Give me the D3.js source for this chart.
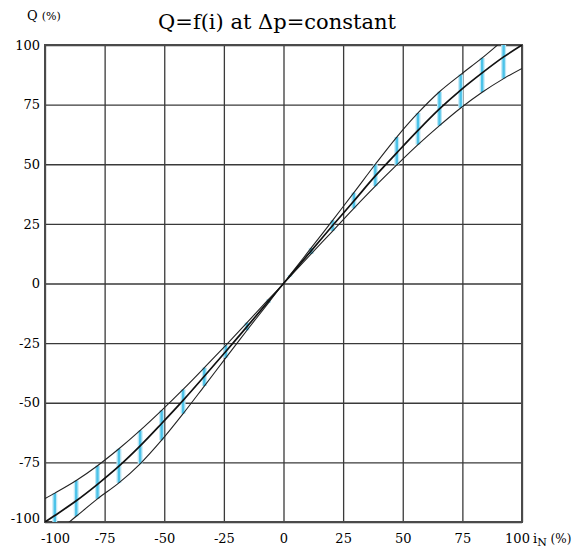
<!DOCTYPE html>
<html>
<head>
<meta charset="utf-8">
<script src="https://cdn.jsdelivr.net/npm/d3@7"></script>
<style>
  html, body { margin: 0; padding: 0; background: #fff; }
  svg { display: block; }
  text { font-family: "DejaVu Serif", "Liberation Serif", serif; fill: #000; }
</style>
</head>
<body>
<svg id="chart" width="587" height="550"></svg>
<script>
// ---- data ----
const xTicks = [-100, -75, -50, -25, 0, 25, 50, 75, 100];
const yTicks = [-100, -75, -50, -25, 0, 25, 50, 75, 100];

const iN = [-100, -95.9, -86.9, -78.0, -69.0, -60.1, -51.1, -42.1, -33.2, -24.2, -15.3, -6.3, 0,
            2.7, 11.6, 20.6, 29.5, 38.5, 47.5, 56.4, 65.4, 74.3, 83.3, 92.3, 100];
const qMain  = [-100, -97.3, -91.1, -84.2, -76.6, -68.1, -58.7, -49.0, -38.9, -28.5, -18.1, -7.4, 0,
                3.2, 13.7, 24.3, 34.6, 45.1, 54.8, 64.2, 73.2, 81.1, 88.3, 95.0, 100];
const qUpper = [-90.2, -87.9, -82.6, -76.4, -69.3, -61.6, -53.2, -44.4, -35.3, -25.9, -16.4, -6.7, 0,
                3.5, 14.9, 26.5, 38.1, 50.0, 61.4, 71.5, 80.4, 87.6, 94.6, 102.1, 108];
const qLower = [-108, -105, -97.6, -90.3, -83.6, -75.6, -65.7, -54.6, -43.0, -31.2, -19.6, -8.1, 0,
                2.9, 12.4, 22.0, 31.5, 40.8, 49.7, 58.2, 66.2, 73.6, 80.2, 85.9, 90.2];
const markerX = [-95.9, -86.9, -78.0, -69.0, -60.1, -51.1, -42.1, -33.2, -24.2, -15.3, -6.3,
                 2.7, 11.6, 20.6, 29.5, 38.5, 47.5, 56.4, 65.4, 74.3, 83.3, 92.3];

// ---- layout ----
const FONT = '"DejaVu Serif", "Liberation Serif", serif';
const L = 45, R = 522, T = 45, B = 522;
const svg = d3.select("#chart");
const x = d3.scaleLinear().domain([-100, 100]).range([L, R]);
const y = d3.scaleLinear().domain([-100, 100]).range([B, T]);

svg.append("defs").append("clipPath").attr("id", "plot")
  .append("rect").attr("x", L).attr("y", T).attr("width", R - L).attr("height", B - T);

// grid via axes
const gx = svg.append("g").attr("transform", `translate(0,${B})`)
  .call(d3.axisBottom(x).tickValues(xTicks).tickSize(-(B - T)).tickPadding(9)
        .tickFormat(d => d));
const gy = svg.append("g").attr("transform", `translate(${L},0)`)
  .call(d3.axisLeft(y).tickValues(yTicks).tickSize(-(R - L)).tickPadding(5)
        .tickFormat(d => d));
[gx, gy].forEach(g => {
  g.attr("font-family", FONT);
  g.select(".domain").remove();
  g.selectAll(".tick line").attr("stroke", "#3a3a3a").attr("stroke-width", 1.3);
  g.selectAll(".tick text").attr("font-family", FONT).style("font-family", FONT)
    .style("font-size", "13px").attr("fill", "#000");
});
gx.selectAll(".tick text").attr("dy", "0.9em")
  .attr("dx", d => d === -100 ? 10 : (d === 100 ? -5 : 0));
gy.selectAll(".tick text").attr("dy", d => d === -100 ? "0.05em" : "0.32em");

// frame
svg.append("rect").attr("x", L).attr("y", T).attr("width", R - L).attr("height", B - T)
  .attr("fill", "none").attr("stroke", "#4a4a4a").attr("stroke-width", 2);

const plot = svg.append("g").attr("clip-path", "url(#plot)");

// blue markers between lower and upper curves
const markers = iN.map((v, i) => ({ x: v, lo: qLower[i], hi: qUpper[i] }))
  .filter(d => markerX.includes(d.x));
plot.selectAll("line.mw").data(markers).join("line").attr("class", "mw")
  .attr("x1", d => x(d.x)).attr("x2", d => x(d.x))
  .attr("y1", d => y(d.lo)).attr("y2", d => y(d.hi))
  .attr("stroke", "#bfe8f6").attr("stroke-width", 5);
plot.selectAll("line.mc").data(markers).join("line").attr("class", "mc")
  .attr("x1", d => x(d.x)).attr("x2", d => x(d.x))
  .attr("y1", d => y(d.lo)).attr("y2", d => y(d.hi))
  .attr("stroke", "#4cc3e9").attr("stroke-width", 2.4);

// curves
const line = d3.line().x(d => x(d[0])).y(d => y(d[1])).curve(d3.curveCatmullRom);
const series = [
  { q: qUpper, w: 1.1, c: "#222" },
  { q: qLower, w: 1.1, c: "#222" },
  { q: qMain, w: 1.7, c: "#111" }
];
series.forEach(s => {
  plot.append("path").datum(iN.map((v, i) => [v, s.q[i]]))
    .attr("d", line).attr("fill", "none").attr("stroke", s.c).attr("stroke-width", s.w);
});

// titles
svg.append("text").attr("x", 277).attr("y", 29).attr("text-anchor", "middle")
  .attr("font-family", FONT).style("font-size", "21px").text("Q=f(i) at Δp=constant");
const qy = svg.append("text").attr("x", 27).attr("y", 20).attr("font-family", FONT)
  .style("font-size", "13px");
qy.append("tspan").text("Q ");
qy.append("tspan").style("font-size", "11px").text("(%)");
const xl = svg.append("text").attr("x", 533).attr("y", 543).attr("font-family", FONT)
  .style("font-size", "13px");
xl.append("tspan").text("i");
xl.append("tspan").attr("dy", 3).style("font-size", "11px").text("N");
xl.append("tspan").attr("dy", -3).style("font-size", "12px").text(" (%)");
</script>
</body>
</html>
